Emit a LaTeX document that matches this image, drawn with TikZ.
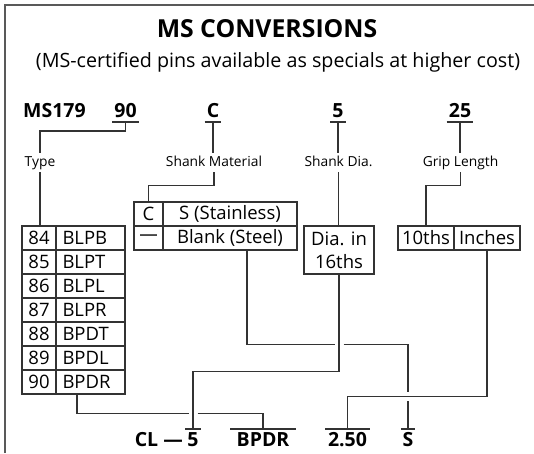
\documentclass[tikz,border=0pt]{standalone}
\usepackage{fontspec}
\setmainfont{Open Sans}
\usetikzlibrary{calc}
\tikzstyle{wire}=[draw=black!80, line width=1.1pt]
\tikzstyle{cell}=[draw=black!80, line width=1.1pt, minimum height=24pt, inner sep=0pt, font=\fontsize{18.5}{20}\selectfont]
\tikzstyle{code}=[font=\fontsize{19.5}{20}\selectfont\bfseries, inner xsep=2pt, anchor=base]
\tikzstyle{tag}=[font=\fontsize{13.8}{15}\selectfont, anchor=base, inner xsep=1pt, inner ysep=4pt, text height=9pt, text depth=2pt]

\begin{document}
\begin{tikzpicture}[x=1pt,y=-1pt]
    \useasboundingbox (0,0) rectangle (534,453);
    % frame
    \draw[draw=black!65, line width=2pt] (5,453) -- (5,5) -- (534,5);

    % heading
    \node[font=\fontsize{24.8}{26}\selectfont\bfseries, anchor=base] (title) at (267,37) {MS CONVERSIONS};
    \node[font=\fontsize{19.7}{22}\selectfont, anchor=base] (sub) at (278,67) {(MS-certified pins available as specials at higher cost)};

    % part number on top
    \node[code, anchor=base west, inner xsep=0pt] (ms) at (23,117) {MS179};
    \node[code] (n90) at (125.5,117) {90};
    \node[code] (nC) at (213,117) {C};
    \node[code] (n5) at (338,117) {5};
    \node[code] (n25) at (460,117) {25};
    \foreach \p in {n90,nC,n5,n25}
        \draw[wire] ([yshift=-5pt]\p.base west) -- ([yshift=-5pt]\p.base east)
            coordinate[pos=0.5] (u\p);

    % labels
    \node[tag] (type) at (40,166) {Type};
    \node[tag] (mat) at (214,166) {Shank Material};
    \node[tag] (dia) at (338.5,166) {Shank Dia.};
    \node[tag] (grip) at (460.5,166) {Grip Length};

    % type table
    \foreach \n/\c [count=\i] in {84/BLPB,85/BLPT,86/BLPL,87/BLPR,88/BPDT,89/BPDL,90/BPDR} {
        \node[cell, minimum width=34pt] (num\i) at (39,214+24*\i) {\n};
        \node[cell, text width=56pt, align=left, inner xsep=6.5pt] (kind\i) at (90.5,214+24*\i) {\c};
    }

    % shank material table
    \node[cell, minimum width=29pt] (mC) at (148.5,214) {C};
    \node[cell, minimum width=134pt] (stain) at (230,214) {S (Stainless)};
    \node[cell, minimum width=29pt] (mB) at (148.5,238) {---};
    \node[cell, minimum width=134pt] (blank) at (230,238) {Blank (Steel)};

    % diameter box
    \node[cell, minimum width=70pt, minimum height=48pt, align=center, font=\fontsize{18.5}{23}\selectfont] (dbox) at (339,250) {Dia. in\\16ths};

    % grip length table
    \node[cell, minimum width=56pt] (tenths) at (426,238) {10ths};
    \node[cell, minimum width=66pt] (inches) at (487,238) {Inches};

    % resulting part number
    \node[code, anchor=base east] (cl) at (185,446) {CL ---};
    \node[code] (b5) at (193,446) {5};
    \node[code, inner xsep=6pt] (bpdr) at (263,446) {BPDR};
    \node[code, inner xsep=2.5pt] (b250) at (347.5,446) {2.50};
    \node[code, inner xsep=1.5pt] (bS) at (408,446) {S};
    \foreach \p in {b5,bpdr,b250,bS}
        \draw[wire] ([yshift=17pt]\p.base west) -- ([yshift=17pt]\p.base east)
            coordinate[pos=0.5] (u\p);

    % top connectors
    \draw[wire] (un90) -- ++(0,9) -| (type.north);
    \draw[wire] (type.south) -- (type.south |- num1.north);
    \draw[wire] (unC) -- (unC |- mat.north);
    \draw[wire] (mat.south) -- ++(0,13) -| (mC.north);
    \draw[wire] (un5) -- (un5 |- dia.north);
    \draw[wire] (dia.south) -- (dia.south |- dbox.north);
    \draw[wire] (un25) -- (un25 |- grip.north);
    \draw[wire] (grip.south) -- ++(0,13) -| (tenths.north);

    % bottom connectors
    \draw[wire] (dbox.south) -- ++(0,97) -| (ub5);
    \draw[wire] (inches.south) -- ++(0,146) coordinate (g1) -| (ub250);
    \coordinate (k) at ([xshift=-13.5pt]kind7.south);
    \draw[wire] (k) -- ++(0,19) coordinate (k1) -- ($(k1 -| ub5)+(-4.5,0)$);
    \draw[wire] ($(k1 -| ub5)+(4.5,0)$) -| (ubpdr);
    \coordinate (m) at ([xshift=17pt]blank.south);
    \draw[wire] (m) -- ++(0,94) coordinate (m1) -- ($(m1 -| dbox.south)+(-4.5,0)$);
    \draw[wire] ($(m1 -| dbox.south)+(4.5,0)$) -| ($(ubS |- g1)+(0,-4.5)$);
    \draw[wire] ($(ubS |- g1)+(0,4.5)$) -- (ubS);
\end{tikzpicture}
\end{document}
